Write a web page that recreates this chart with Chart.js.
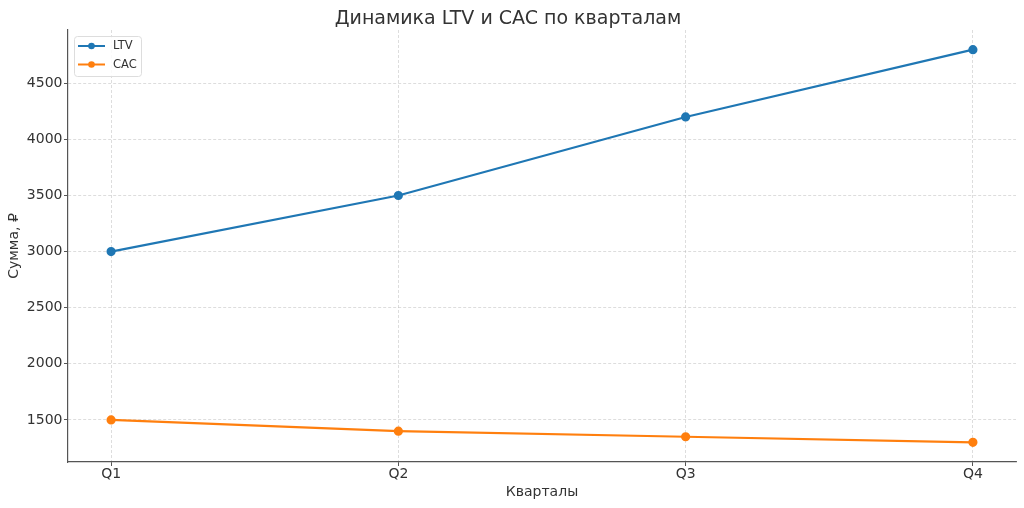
<!DOCTYPE html>
<html><head><meta charset="utf-8">
<script src="https://cdn.jsdelivr.net/npm/chart.js@4/dist/chart.umd.min.js"></script>
<style>html,body{margin:0;padding:0;background:#fff}#wrap{width:1024px;height:508px;position:relative}</style>
</head><body><div id="wrap"><canvas id="c"></canvas></div>
<script>
const categories = ['Q1', 'Q2', 'Q3', 'Q4'];
const ltvValues = [3000, 3500, 4200, 4800];
const cacValues = [1500, 1400, 1350, 1300];
const yTickValues = [1500, 2000, 2500, 3000, 3500, 4000, 4500];
const seriesNames = ['LTV', 'CAC'];

const FONT = "'DejaVu Sans', sans-serif";
const TEXT = '#333333';
const BLUE = '#1f77b4';
const ORANGE = '#ff7f0e';
const GRID = 'rgba(176,176,176,0.55)';

const toPoints = vals => vals.map((v, i) => ({x: i, y: v}));

const insideLegend = {
  id: 'insideLegend',
  afterDraw(chart) {
    const ctx = chart.ctx;
    const a = chart.chartArea;
    const x0 = a.left + 6.5, y0 = a.top + 6.5, w = 67, h = 40;
    ctx.save();
    ctx.fillStyle = 'rgba(255,255,255,0.85)';
    ctx.strokeStyle = '#dddddd';
    ctx.lineWidth = 1;
    ctx.beginPath();
    ctx.roundRect(x0, y0, w, h, 3);
    ctx.fill();
    ctx.stroke();
    chart.data.datasets.forEach((ds, i) => {
      const y = y0 + 9.5 + i * 18.5;
      ctx.strokeStyle = ds.borderColor;
      ctx.lineWidth = 2;
      ctx.beginPath();
      ctx.moveTo(x0 + 3.5, y);
      ctx.lineTo(x0 + 30.5, y);
      ctx.stroke();
      ctx.fillStyle = ds.borderColor;
      ctx.beginPath();
      ctx.arc(x0 + 17, y, 3.3, 0, Math.PI * 2);
      ctx.fill();
      ctx.fillStyle = TEXT;
      ctx.font = "11.5px " + FONT;
      ctx.textBaseline = 'middle';
      ctx.textAlign = 'left';
      ctx.fillText(ds.label, x0 + 38.5, y + 0.5);
    });
    ctx.restore();
  }
};

new Chart(document.getElementById('c'), {
  type: 'line',
  data: {
    datasets: [
      {label: seriesNames[0], data: toPoints(ltvValues), borderColor: BLUE, backgroundColor: BLUE,
       borderWidth: 2.2, pointRadius: 3.5, pointHoverRadius: 3.5, tension: 0},
      {label: seriesNames[1], data: toPoints(cacValues), borderColor: ORANGE, backgroundColor: ORANGE,
       borderWidth: 2.2, pointRadius: 3.5, pointHoverRadius: 3.5, tension: 0}
    ]
  },
  options: {
    responsive: true,
    maintainAspectRatio: false,
    animation: false,
    layout: {padding: {left: 0, right: 8, top: 0, bottom: 0}},
    plugins: {
      legend: {display: false},
      tooltip: {enabled: false},
      title: {
        display: true,
        text: 'Динамика LTV и CAC по кварталам',
        color: TEXT,
        font: {family: FONT, size: 19, weight: 'normal', lineHeight: 1.2},
        padding: {top: 7.2, bottom: 0}
      }
    },
    scales: {
      x: {
        type: 'linear',
        min: -0.15,
        max: 3.15,
        afterBuildTicks: s => { s.ticks = categories.map((c, i) => ({value: i})); },
        afterFit: s => { s.height = 46; },
        ticks: {
          color: TEXT, font: {family: FONT, size: 14}, padding: -0.5,
          autoSkip: false, maxRotation: 0,
          callback: v => categories[v] ?? ''
        },
        grid: {color: GRID, lineWidth: 0.8, drawTicks: true, tickLength: 4, tickColor: '#555', tickWidth: 1},
        border: {display: true, color: '#555', width: 1.2, dash: [3, 2]},
        title: {display: true, text: 'Кварталы', color: TEXT,
                font: {family: FONT, size: 14, lineHeight: 1.2}, padding: {top: 0, bottom: 7.2}}
      },
      y: {
        min: 1125,
        max: 4975,
        afterBuildTicks: s => { s.ticks = yTickValues.map(v => ({value: v})); },
        afterFit: s => { s.width = 68; },
        ticks: {color: TEXT, font: {family: FONT, size: 14}, padding: 1.5, callback: v => String(v)},
        grid: {color: GRID, lineWidth: 0.8, drawTicks: true, tickLength: 4, tickColor: '#555', tickWidth: 1},
        border: {display: true, color: '#555', width: 1.2, dash: [3, 2]},
        title: {display: true, text: 'Сумма, ₽', color: TEXT,
                font: {family: FONT, size: 14, lineHeight: 1.2}, padding: {top: 6.2, bottom: 0}}
      }
    }
  },
  plugins: [insideLegend]
});
</script>
</body></html>
